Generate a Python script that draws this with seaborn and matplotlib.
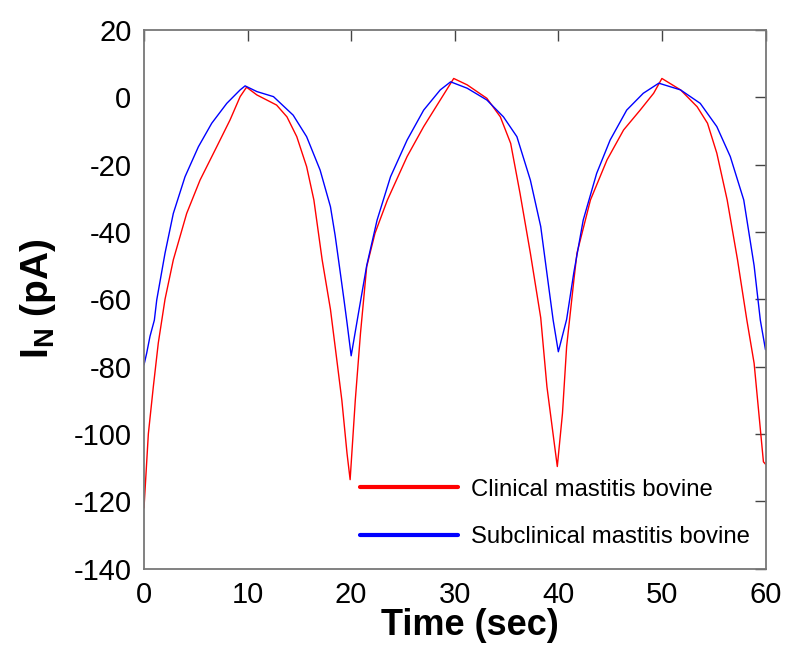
import numpy as np
import pandas as pd
import matplotlib
matplotlib.use("Agg")
import matplotlib.pyplot as plt
import seaborn as sns
from matplotlib.lines import Line2D

# ---- data ----
clinical_t = [0, 0.42, 0.9, 1.38, 2.03, 2.83, 4.12, 5.41, 7.02, 8.31, 9.28, 9.9,
              10.9, 12.8, 13.8, 14.75, 15.7, 16.4, 17.2, 18.0, 18.45, 19.1, 19.6, 19.9,
              20.4, 20.9, 21.5, 22.3, 23.5, 25.4, 27.0, 28.6, 29.9,
              31.2, 33.1, 34.4, 35.4, 36.3, 37.3, 38.3, 38.9, 39.9,
              40.4, 40.8, 41.5, 41.8, 43.1, 44.7, 46.3, 47.9, 49.2, 50.0,
              51.8, 53.4, 54.4, 55.3, 56.3, 57.3, 57.6, 58.2, 58.9, 59.8, 60.0]
clinical_i = [-122, -100, -86, -73, -60, -48.3, -34.5, -24.6, -14.7, -6.7, 0.2, 3.0,
              0.7, -2.3, -5.8, -11.7, -20.6, -30.5, -48.3, -63, -74, -90, -105.8, -113.6,
              -89.9, -70.1, -50.3, -40.4, -30.5, -17.6, -8.7, -0.8, 5.6,
              3.7, -0.3, -5.8, -13.7, -28.5, -46.3, -65.5, -86, -109.7,
              -93.9, -74.1, -54.3, -46.3, -30.5, -18.6, -9.7, -3.8, 1.2, 5.6,
              2.2, -2.8, -7.7, -16.6, -30.5, -48.3, -54.3, -66.2, -79, -108.3, -109]

subclinical_t = [0, 0.26, 0.58, 1.0, 1.23, 2.03, 2.83, 3.96, 5.25, 6.54, 7.99, 9.28, 9.76,
                 10.9, 12.5, 14.4, 15.7, 17.0, 18.0, 18.45, 18.9, 19.3, 19.6, 20.0,
                 20.7, 21.5, 22.5, 23.8, 25.4, 27.0, 28.6, 29.6,
                 31.2, 33.1, 34.7, 36.0, 37.3, 38.3, 39.1, 39.5, 40.0,
                 40.8, 41.5, 42.4, 43.7, 45.0, 46.6, 48.2, 49.7,
                 51.8, 53.7, 55.3, 56.6, 57.9, 58.9, 59.5, 60.0]
subclinical_i = [-79.5, -76, -71, -66.2, -60.2, -46.3, -34.5, -23.6, -14.7, -7.7, -1.8, 2.2, 3.4,
                 1.7, 0.2, -5.3, -11.7, -21.6, -32.5, -41, -51, -60, -67, -76.8,
                 -64.2, -50, -36.5, -23.6, -12.7, -3.8, 2.2, 4.6,
                 2.7, -0.8, -5.8, -11.7, -24.6, -38.4, -57, -66.2, -75.6,
                 -66, -52, -36.5, -22.6, -12.7, -3.8, 1.2, 4.2,
                 2.2, -1.8, -8.7, -17.6, -30.5, -50, -66.2, -75]

labels = ["Clinical mastitis bovine", "Subclinical mastitis bovine"]
colors = ["#ff0000", "#0000ff"]
x_ticks = [0, 10, 20, 30, 40, 50, 60]
y_ticks = [-140, -120, -100, -80, -60, -40, -20, 0, 20]

df = pd.concat([
    pd.DataFrame({"Time": clinical_t, "Current": clinical_i, "Sample": labels[0]}),
    pd.DataFrame({"Time": subclinical_t, "Current": subclinical_i, "Sample": labels[1]}),
], ignore_index=True)

sns.set_style("white")
plt.rcParams["font.family"] = ["Liberation Sans", "DejaVu Sans"]
plt.rcParams["mathtext.fontset"] = "custom"
plt.rcParams["mathtext.rm"] = "Liberation Sans"
plt.rcParams["mathtext.bf"] = "Liberation Sans:bold"
plt.rcParams["mathtext.it"] = "Liberation Sans:italic"
plt.rcParams["axes.unicode_minus"] = False
plt.rcParams["text.color"] = "black"
plt.rcParams["axes.labelcolor"] = "black"
plt.rcParams["xtick.color"] = "black"
plt.rcParams["ytick.color"] = "black"

fig = plt.figure(figsize=(7.94, 6.46), dpi=100)
ax = fig.add_axes([144 / 794, 1 - 568.5 / 646, (765.5 - 144) / 794, (568.5 - 30) / 646])

sns.lineplot(data=df, x="Time", y="Current", hue="Sample", palette=dict(zip(labels, colors)),
             estimator=None, sort=False, linewidth=1.0, ax=ax, legend=False)

ax.set_xlim(0, 60)
ax.set_ylim(-140, 20)
ax.set_xticks(x_ticks)
ax.set_yticks(y_ticks)
ax.tick_params(axis="both", which="major", direction="in", length=8, width=1.0,
               color="#444444", labelcolor="black", labelsize=21, top=True, right=True, pad=9)
ax.tick_params(axis="x", pad=9)
for s in ax.spines.values():
    s.set_color("#777777")
    s.set_linewidth(1.3)

ax.set_xlabel("Time (sec)", fontsize=26, fontweight="bold", color="black")
ax.xaxis.set_label_coords(0.525, -0.074)
ax.set_ylabel(r"$\mathbf{I_N}$" + " (pA)", fontsize=28, fontweight="bold", labelpad=11, color="black")

handles = [Line2D([], [], color=c, lw=3) for c in colors]
ax.legend(handles, labels, loc="upper left", bbox_to_anchor=(0.3475, 0.167),
          frameon=False, fontsize=17.2, handlelength=4.1, handletextpad=0.55,
          labelspacing=1.07, borderpad=0, borderaxespad=0)

fig.savefig("out.png", dpi=100)
